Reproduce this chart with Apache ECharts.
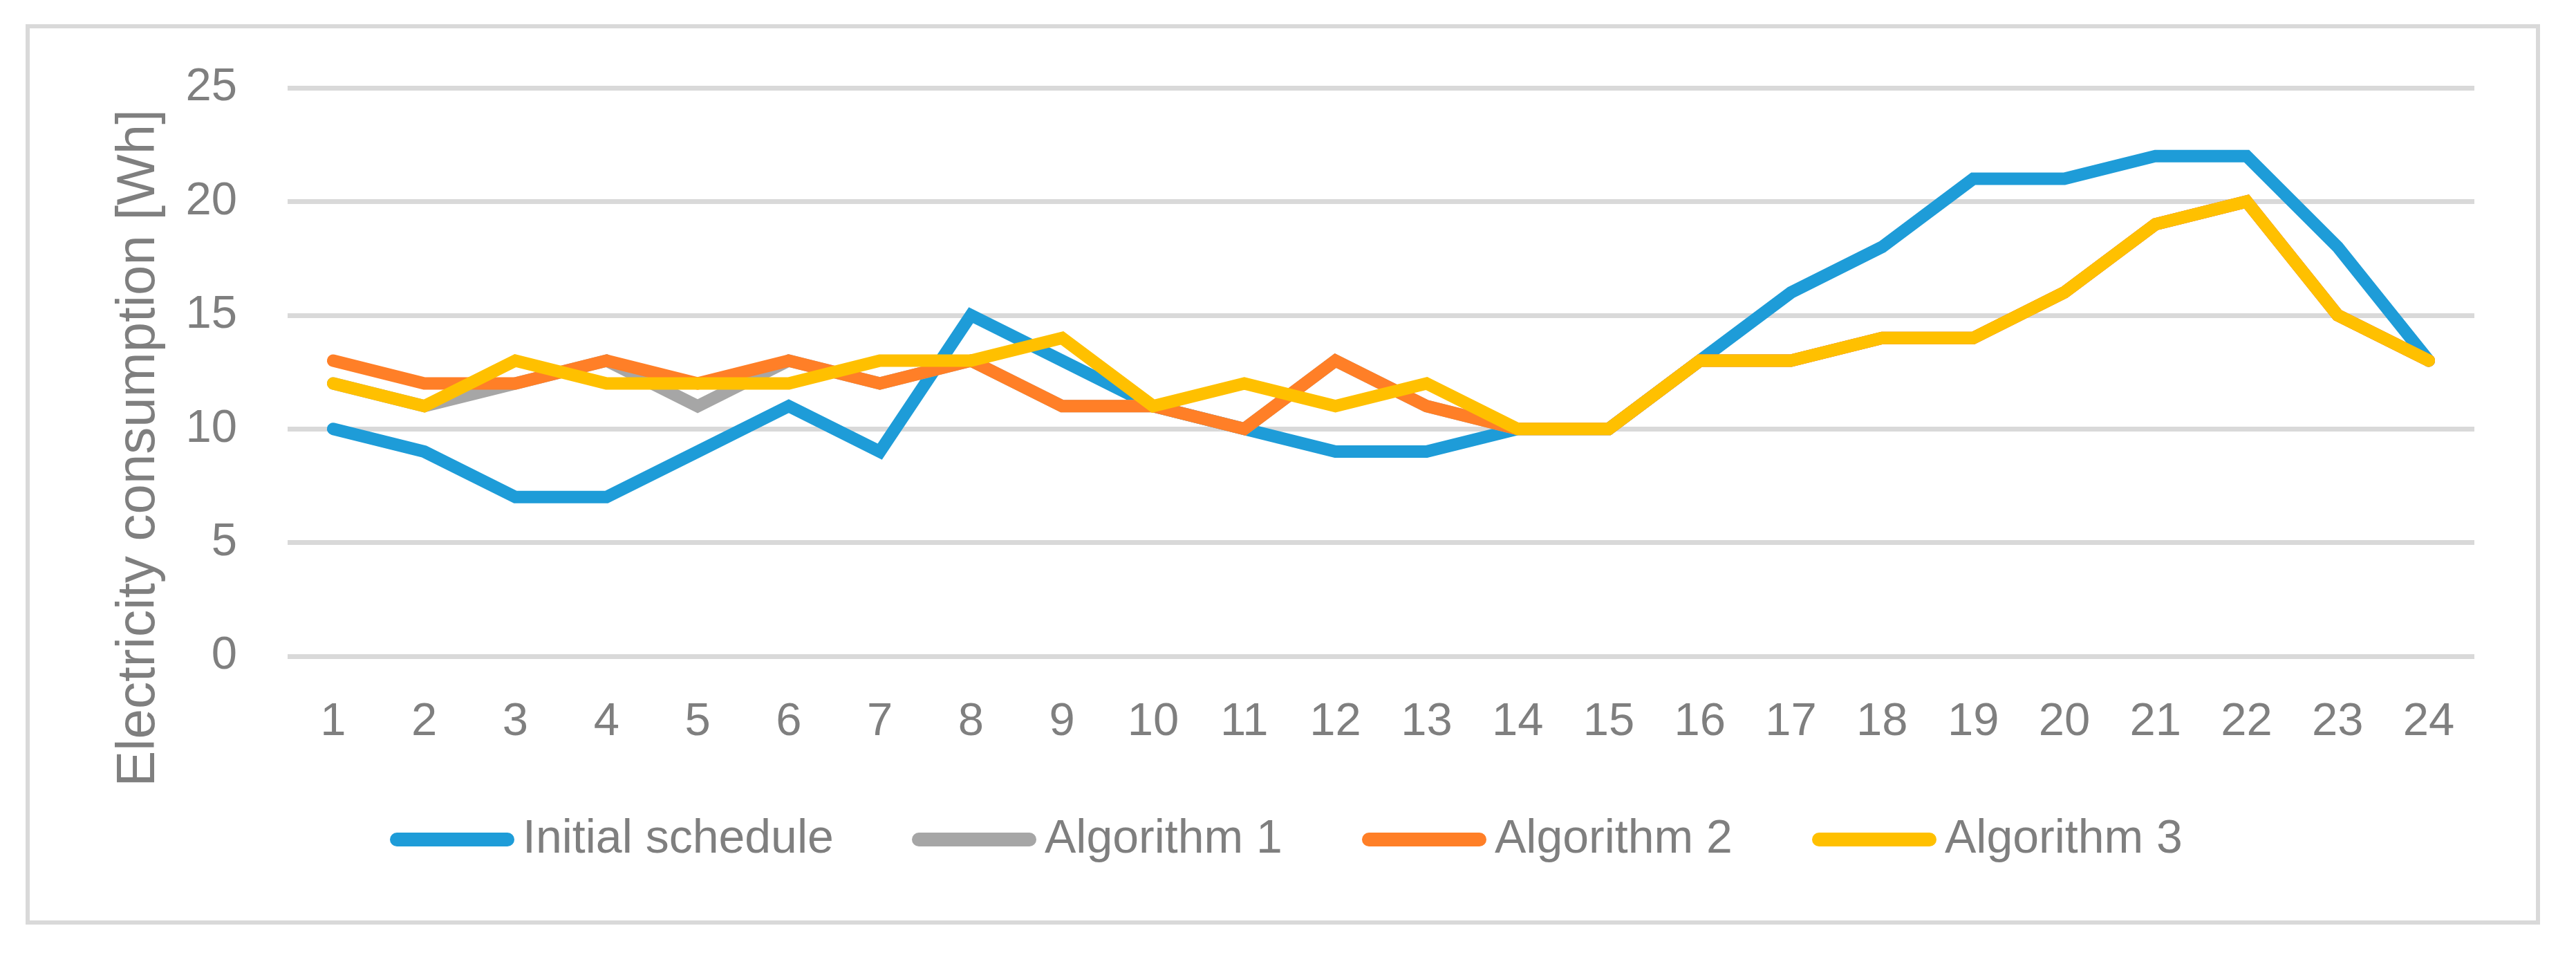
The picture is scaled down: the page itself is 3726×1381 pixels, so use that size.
<!DOCTYPE html>
<html>
<head>
<meta charset="utf-8">
<script src="https://cdn.jsdelivr.net/npm/echarts@6/dist/echarts.min.js"></script>
<style>
html,body{margin:0;padding:0;background:#fff;}
#chart{width:3726px;height:1381px;}
</style>
</head>
<body>
<div id="chart"></div>
<script>
const hours = ['1','2','3','4','5','6','7','8','9','10','11','12','13','14','15','16','17','18','19','20','21','22','23','24'];
const initialSchedule = [10,9,7,7,9,11,9,15,13,11,10,9,9,10,10,13,16,18,21,21,22,22,18,13];
const algorithm1 = [12,11,12,13,11,13,12,13,11,11,10,13,11,10,10,13,13,14,14,16,19,20,15,13];
const algorithm2 = [13,12,12,13,12,13,12,13,11,11,10,13,11,10,10,13,13,14,14,16,19,20,15,13];
const algorithm3 = [12,11,13,12,12,12,13,13,14,11,12,11,12,10,10,13,13,14,14,16,19,20,15,13];
const seriesNames = ['Initial schedule','Algorithm 1','Algorithm 2','Algorithm 3'];
const seriesColors = ['#1E9CD8','#A6A6A6','#FF7F27','#FFC000'];
const yTitle = 'Electricity consumption [Wh]';

const textColor = '#7F7F7F';
const font = 'Liberation Sans';
const chart = echarts.init(document.getElementById('chart'));
const dataSets = [initialSchedule, algorithm1, algorithm2, algorithm3];
const icon = 'path://M10,0 L170,0 A10,10 0 0 1 170,20 L10,20 A10,10 0 0 1 10,0 Z';
const legendLeft = [564, 1319, 1970, 2621];

chart.setOption({
  backgroundColor: '#ffffff',
  animation: false,
  graphic: [{
    type: 'rect',
    shape: {x: 40, y: 38, width: 3631, height: 1296},
    style: {fill: 'none', stroke: '#D9D9D9', lineWidth: 6},
    silent: true
  }],
  grid: {left: 416, right: 147, top: 127, bottom: 432, containLabel: false},
  legend: seriesNames.map((n, i) => ({
    left: legendLeft[i],
    top: 1180,
    padding: 0,
    itemWidth: 180,
    itemHeight: 20,
    icon: icon,
    data: [n],
    textStyle: {color: textColor, fontFamily: font, fontSize: 68, padding: [0,0,0,7]}
  })),
  xAxis: {
    type: 'category',
    data: hours,
    boundaryGap: true,
    axisLine: {show: false},
    axisTick: {show: false},
    axisLabel: {color: textColor, fontFamily: font, fontSize: 67, margin: 62}
  },
  yAxis: {
    type: 'value',
    min: 0, max: 25, interval: 5,
    name: yTitle,
    nameLocation: 'middle',
    nameGap: 176,
    nameTextStyle: {color: textColor, fontFamily: font, fontSize: 78, padding: [0,220,0,0]},
    axisLine: {show: false},
    axisTick: {show: false},
    axisLabel: {color: textColor, fontFamily: font, fontSize: 67, margin: 73},
    splitLine: {lineStyle: {color: '#D9D9D9', width: 7}}
  },
  series: dataSets.map((d, i) => ({
    name: seriesNames[i],
    type: 'line',
    data: d,
    symbol: 'none',
    color: seriesColors[i],
    lineStyle: {width: 18, color: seriesColors[i], cap: 'round', join: 'miter'},
    z: 2 + i
  }))
});
</script>
</body>
</html>
